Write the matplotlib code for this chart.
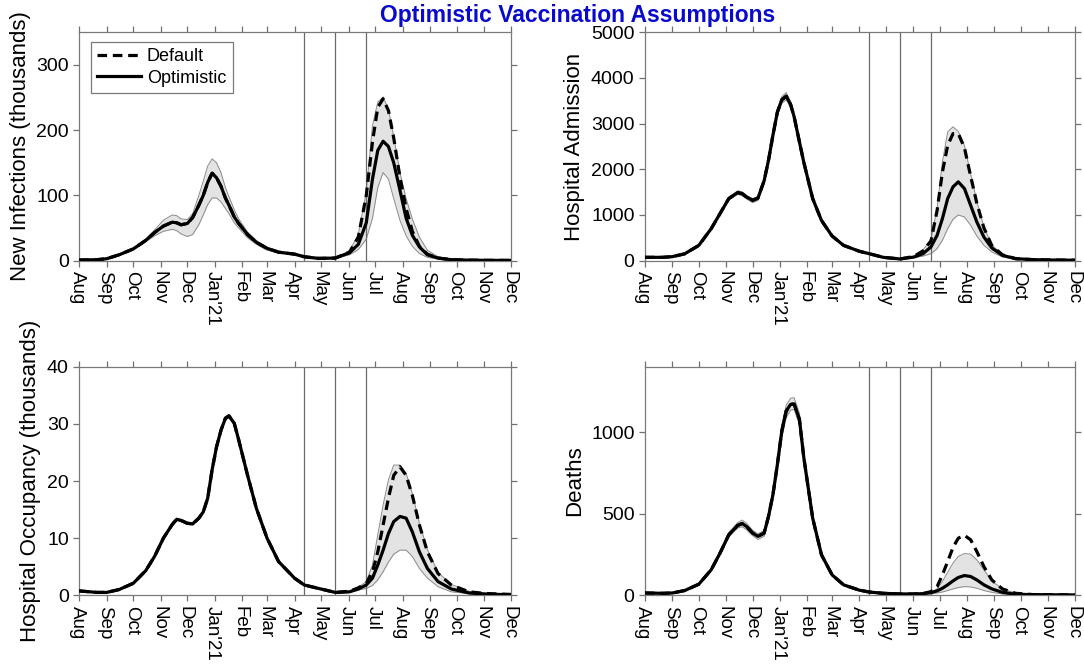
import numpy as np
import pandas as pd
import matplotlib
matplotlib.use('Agg')
import matplotlib.pyplot as plt
import matplotlib.dates as mdates
from matplotlib.ticker import FuncFormatter
from matplotlib.transforms import ScaledTranslation

plt.rcParams['font.family'] = ['Liberation Sans', 'DejaVu Sans']

# days since 1 Aug 2020
day = [0, 20, 31, 45, 61, 75, 85, 95, 105, 110, 115, 122, 128, 135, 140, 145, 150, 155, 160, 165,
       169, 175, 180, 190, 200, 212, 225, 243, 254, 270, 289, 305, 315, 324, 331, 337, 343, 349, 355, 362,
       369, 376, 384, 393, 405, 420, 440, 460, 487]
# both scenarios follow the same path up to index 31 (mid May 2021)
split = 31

# new infections (thousands)
inf_opt = [1, 1.5, 3, 9, 18, 31, 43, 53, 59, 58, 55, 57, 66, 85, 100, 120, 134, 127, 114, 96,
           85, 67, 57, 40, 28, 19, 13, 10, 6, 3.5, 4, 12, 25, 58, 125, 169, 183, 175, 150, 108,
           65, 39, 21, 9, 4, 1.5, 0.8, 0.5, 0.4]
inf_def = inf_opt[:split] + [13, 36, 100, 182, 235, 248, 230, 188, 128, 80, 45, 22, 10, 4, 1.5, 0.8, 0.5, 0.4]
inf_hi = [1.2, 1.8, 3.5, 10, 19, 33, 47, 62, 70, 69, 64, 63, 72, 100, 122, 145, 156, 150, 135, 112,
          98, 78, 64, 44, 31, 20, 14, 11, 7, 4, 5, 15, 40, 105, 207, 243, 251, 232, 190, 135,
          95, 64, 36, 16, 6, 2, 1, 0.6, 0.5]
inf_lo = [0.8, 1.2, 2.5, 8, 17, 29, 38, 45, 48, 46, 41, 37, 40, 55, 70, 86, 96, 96, 90, 80,
          72, 58, 50, 35, 25, 16, 12, 9, 5, 3, 3.5, 9, 17, 33, 65, 112, 135, 125, 95, 62,
          38, 22, 11, 5, 2.5, 1, 0.6, 0.4, 0.3]

# hospital admissions
adm_opt = [73, 73, 88, 150, 335, 700, 1030, 1360, 1490, 1467, 1394, 1321, 1370, 1750, 2200, 2750, 3250, 3520, 3600, 3420,
           3150, 2600, 2150, 1360, 880, 540, 335, 205, 153, 73, 37, 80, 153, 300, 555, 920, 1360, 1615, 1725, 1577,
           1212, 847, 518, 277, 117, 44, 22, 15, 10]
adm_def = adm_opt[:split] + [95, 215, 430, 1100, 1940, 2525, 2780, 2780, 2470, 1850, 1260, 720, 330, 128, 44, 22, 15, 10]
adm_hi = [75, 75, 92, 158, 345, 715, 1050, 1390, 1530, 1510, 1430, 1360, 1400, 1780, 2240, 2800, 3310, 3590, 3680, 3480,
          3200, 2640, 2180, 1380, 895, 550, 342, 210, 158, 76, 40, 100, 230, 470, 1140, 2160, 2820, 2930, 2830, 2520,
          1900, 1300, 740, 340, 135, 50, 24, 16, 11]
adm_lo = [70, 70, 84, 142, 325, 685, 1010, 1330, 1450, 1425, 1350, 1270, 1320, 1700, 2150, 2700, 3190, 3450, 3520, 3360,
          3100, 2560, 2120, 1340, 865, 530, 328, 200, 148, 70, 34, 70, 100, 153, 263, 445, 700, 905, 1000, 956,
          774, 540, 335, 190, 80, 30, 18, 13, 9]

# hospital occupancy (thousands)
occ_opt = [0.76, 0.5, 0.5, 1.0, 2.1, 4.3, 6.8, 10.0, 12.4, 13.3, 13.1, 12.6, 12.5, 13.5, 14.6, 17.0, 22.0, 26.0, 28.9, 31.0,
           31.4, 30.1, 27.2, 21.0, 15.2, 10.0, 5.9, 3.0, 1.8, 1.2, 0.5, 0.6, 1.1, 1.8, 3.0, 5.3, 7.9, 10.8, 12.9, 13.8,
           13.5, 11.1, 7.6, 4.7, 2.4, 1.1, 0.4, 0.2, 0.1]
occ_def = occ_opt[:split] + [0.7, 1.3, 2.1, 4.1, 7.6, 12.3, 17.0, 21.0, 22.5, 21.0, 17.5, 12.3, 7.6, 3.8, 1.8, 0.6, 0.3, 0.15]
occ_hi = [0.8, 0.55, 0.55, 1.1, 2.2, 4.4, 7.0, 10.2, 12.6, 13.5, 13.3, 12.8, 12.7, 13.7, 14.8, 17.2, 22.2, 26.2, 29.1, 31.3,
          31.7, 30.4, 27.5, 21.2, 15.4, 10.2, 6.0, 3.1, 1.9, 1.3, 0.55, 0.7, 1.4, 2.4, 5.3, 10.6, 15.8, 20.2, 22.8, 22.8,
          21.3, 17.8, 12.6, 8.0, 4.0, 1.9, 0.7, 0.35, 0.17]
occ_lo = [0.72, 0.45, 0.45, 0.9, 2.0, 4.2, 6.6, 9.8, 12.2, 13.1, 12.9, 12.4, 12.3, 13.3, 14.4, 16.8, 21.8, 25.8, 28.7, 30.7,
          31.1, 29.8, 26.9, 20.8, 15.0, 9.8, 5.8, 2.9, 1.7, 1.1, 0.45, 0.5, 0.9, 1.2, 1.7, 2.7, 4.1, 5.8, 7.2, 7.9,
          7.9, 6.8, 4.7, 3.0, 1.5, 0.6, 0.3, 0.15, 0.08]

# deaths
dth_opt = [14, 12, 14, 29, 68, 156, 258, 371, 428, 440, 422, 381, 361, 381, 484, 617, 801, 1006, 1129, 1170,
           1172, 1078, 842, 473, 248, 125, 64, 31, 20, 12, 8, 8, 10, 16, 27, 43, 64, 88, 109, 121,
           115, 94, 64, 39, 18, 6, 4, 3, 2]
dth_def = dth_opt[:split] + [8, 11, 22, 53, 125, 207, 293, 350, 367, 340, 268, 176, 94, 39, 12, 4, 3, 2]
dth_hi = [15, 13, 15, 31, 72, 162, 268, 385, 445, 461, 442, 398, 376, 398, 505, 640, 830, 1040, 1165, 1208,
          1211, 1115, 870, 490, 258, 130, 67, 33, 21, 13, 9, 9, 11, 18, 39, 84, 141, 197, 238, 256,
          252, 217, 156, 88, 39, 14, 5, 3.5, 2.5]
dth_lo = [13, 11, 13, 27, 64, 150, 248, 358, 412, 420, 402, 365, 342, 362, 462, 592, 770, 968, 1090, 1135,
          1139, 1045, 815, 456, 238, 120, 61, 29, 19, 11, 7, 7, 9, 10, 14, 20, 29, 39, 47, 53,
          51, 43, 29, 18, 8, 4, 3, 2, 1.5]

# roadmap step dates
steps = ['2021-04-12', '2021-05-17', '2021-06-21']

dates = pd.Timestamp('2020-08-01') + pd.to_timedelta(day, unit='D')
x0, x1 = pd.Timestamp('2020-08-01'), pd.Timestamp('2021-12-01')


def month_label(x, pos):
    dt = mdates.num2date(x)
    return "Jan'21" if dt.month == 1 else dt.strftime('%b')


def draw_panel(ax, opt, dflt, lo, hi, ymax, yticks, ylabel):
    ax.fill_between(dates, lo, hi, color='#e3e3e3', lw=0, zorder=1)
    ax.plot(dates, lo, color='#8a8a8a', lw=0.7, zorder=2)
    ax.plot(dates, hi, color='#8a8a8a', lw=0.7, zorder=2)
    ax.plot(dates, dflt, color='k', lw=2.3, ls=(0, (3, 1.8)), label='Default', zorder=3)
    ax.plot(dates, opt, color='k', lw=2.3, label='Optimistic', zorder=4)
    for s in steps:
        ax.axvline(pd.Timestamp(s), color='#6a6a6a', lw=0.9, zorder=2.5)
    ax.set_xlim(x0, x1)
    ax.set_ylim(0, ymax)
    ax.set_yticks(yticks)
    ax.xaxis.set_major_locator(mdates.MonthLocator())
    ax.xaxis.set_major_formatter(FuncFormatter(month_label))
    ax.tick_params(axis='both', direction='out', length=4, width=0.9, color='#707070',
                   labelsize=14, top=True, right=True)
    ax.tick_params(axis='x', labelrotation=-90, labelsize=13.5)
    shift = ScaledTranslation(-1.5 / 72, 0, fig.dpi_scale_trans)
    for lab in ax.get_xticklabels():
        lab.set_ha('center')
        lab.set_va('top')
        lab.set_transform(lab.get_transform() + shift)
    for sp in ax.spines.values():
        sp.set_color('#7a7a7a')
        sp.set_linewidth(0.9)
    ax.set_ylabel(ylabel, fontsize=16)


fig = plt.figure(figsize=(10.84, 6.66), dpi=100)
ax1 = fig.add_axes([0.0731, 0.6086, 0.398, 0.343])
ax2 = fig.add_axes([0.5950, 0.6086, 0.3965, 0.343])
ax3 = fig.add_axes([0.0731, 0.1062, 0.398, 0.343])
ax4 = fig.add_axes([0.5950, 0.1062, 0.3965, 0.343])

draw_panel(ax1, inf_opt, inf_def, inf_lo, inf_hi, 350, [0, 100, 200, 300], 'New Infections (thousands)')
draw_panel(ax2, adm_opt, adm_def, adm_lo, adm_hi, 5000, [0, 1000, 2000, 3000, 4000, 5000], 'Hospital Admission')
draw_panel(ax3, occ_opt, occ_def, occ_lo, occ_hi, 40, [0, 10, 20, 30, 40], 'Hospital Occupancy (thousands)')
draw_panel(ax4, dth_opt, dth_def, dth_lo, dth_hi, 1400, [0, 500, 1000], 'Deaths')

leg = ax1.legend(loc='upper left', bbox_to_anchor=(0.027, 0.958), borderaxespad=0, fontsize=13,
                 handlelength=2.4, handletextpad=0.35, fancybox=False, framealpha=1,
                 edgecolor='#7a7a7a', borderpad=0.35, labelspacing=0.25)
leg.get_frame().set_linewidth(0.9)

fig.text(0.533, 0.976, 'Optimistic Vaccination Assumptions', color='#0a0acc', fontsize=16.5,
         fontweight='bold', ha='center', va='center')

fig.savefig('out.png', dpi=100)
